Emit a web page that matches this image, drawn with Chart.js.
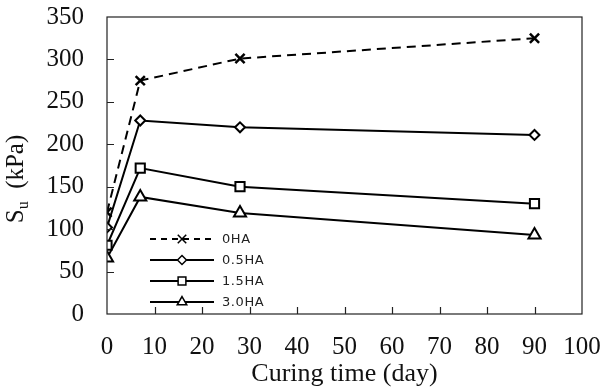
<!doctype html>
<html lang="en">
<head>
<meta charset="UTF-8">
<script src="https://cdn.jsdelivr.net/npm/chart.js@4.4.1/dist/chart.umd.min.js"></script>
<title>Su vs curing time</title>
<style>
  html, body { margin: 0; padding: 0; background: #fff; }
  .box { width: 604px; height: 390px; }
</style>
</head>
<body>
<div class="box"><canvas id="canvas"></canvas></div>
<script>
// data
const days = [0, 7, 28, 90];
const seriesNames = ['0HA', '0.5HA', '1.5HA', '3.0HA'];
const su0HA = [120, 275, 301, 325];
const su05HA = [102, 228, 220, 211];
const su15HA = [81, 172, 150, 130];
const su30HA = [66, 138, 119, 93];
const xTicks = [0, 10, 20, 30, 40, 50, 60, 70, 80, 90, 100];
const yTicks = [0, 50, 100, 150, 200, 250, 300, 350];

const serif = '"Liberation Serif", "Times New Roman", serif';

function pts(values) {
    return days.map((d, i) => ({ x: d, y: values[i] }));
}

const styles = [
    { style: 'crossRot', radius: 6.5, legendRadius: 6, dash: [9, 6], legendDash: [6, 5] },
    { style: 'rectRot', radius: 5, legendRadius: 4.5, dash: [], legendDash: [] },
    { style: 'rect', radius: 6.5, legendRadius: 5.5, dash: [], legendDash: [] },
    { style: 'triangle', radius: 7, legendRadius: 5.5, dash: [], legendDash: [] },
];
const allValues = [su0HA, su05HA, su15HA, su30HA];

const datasets = allValues.map((v, i) => ({
    label: seriesNames[i],
    data: pts(v),
    borderColor: '#000',
    backgroundColor: '#fff',
    borderWidth: 2,
    borderDash: styles[i].dash,
    pointStyle: styles[i].style,
    pointRadius: styles[i].radius,
    pointBorderWidth: i === 0 ? 2.5 : 2,
    pointBorderColor: '#000',
    pointBackgroundColor: '#fff',
    tension: 0,
}));

// box around the plot and inward tick marks
const framePlugin = {
    id: 'frame',
    afterDatasetsDraw(chart) {
        const { ctx, chartArea: a, scales } = chart;
        ctx.save();
        ctx.strokeStyle = '#222';
        ctx.lineWidth = 1.2;
        ctx.strokeRect(a.left, a.top, a.right - a.left, a.bottom - a.top);
        ctx.beginPath();
        xTicks.slice(1, -1).forEach(t => {
            const px = Math.round(scales.x.getPixelForValue(t)) + 0.5;
            ctx.moveTo(px, a.bottom);
            ctx.lineTo(px, a.bottom - 7);
        });
        yTicks.slice(1, -1).forEach(t => {
            const py = Math.round(scales.y.getPixelForValue(t)) + 0.5;
            ctx.moveTo(a.left, py);
            ctx.lineTo(a.left + 7, py);
        });
        ctx.stroke();
        ctx.restore();
    }
};

// legend inside the plot, lower left
const legendPlugin = {
    id: 'innerLegend',
    afterDraw(chart) {
        const { ctx } = chart;
        const x0 = 150, x1 = 214, rowY = [239, 260, 281, 302];
        ctx.save();
        chart.data.datasets.forEach((ds, i) => {
            const y = rowY[i];
            ctx.strokeStyle = '#000';
            ctx.lineWidth = 2;
            ctx.setLineDash(styles[i].legendDash);
            ctx.beginPath();
            ctx.moveTo(x0, y);
            ctx.lineTo(x1, y);
            ctx.stroke();
            ctx.setLineDash([]);
            ctx.fillStyle = '#fff';
            ctx.lineWidth = 1.5;
            Chart.helpers.drawPoint(ctx, { pointStyle: ds.pointStyle, radius: styles[i].legendRadius, borderWidth: 1.5 }, (x0 + x1) / 2, y);
            ctx.fillStyle = '#222';
            ctx.font = '13px "DejaVu Sans", sans-serif';
            ctx.letterSpacing = '0.6px';
            ctx.textBaseline = 'middle';
            ctx.fillText(ds.label, 222, y + 1);
        });
        ctx.restore();
    }
};

// y axis title with subscript
const yTitlePlugin = {
    id: 'yTitle',
    afterDraw(chart) {
        const { ctx } = chart;
        const big = '25px ' + serif, small = '16px ' + serif;
        ctx.save();
        ctx.translate(23, 179);
        ctx.rotate(-Math.PI / 2);
        ctx.fillStyle = '#111';
        ctx.textBaseline = 'alphabetic';
        ctx.font = big;
        const wS = ctx.measureText('S').width;
        const wRest = ctx.measureText('  (kPa)').width;
        ctx.font = small;
        const wU = ctx.measureText('u').width;
        let x = -(wS + wU + wRest) / 2;
        ctx.font = big;
        ctx.fillText('S', x, 0);
        x += wS;
        ctx.font = small;
        ctx.fillText('u', x, 5);
        x += wU;
        ctx.font = big;
        ctx.fillText('  (kPa)', x, 0);
        ctx.restore();
    }
};

Chart.defaults.font.family = serif;
Chart.defaults.color = '#111';

new Chart(document.getElementById('canvas'), {
    type: 'line',
    data: { datasets: datasets },
    plugins: [framePlugin, legendPlugin, yTitlePlugin],
    options: {
        responsive: true,
        maintainAspectRatio: false,
        animation: false,
        layout: { padding: { top: 17, right: 22, left: 0, bottom: 0 } },
        plugins: { legend: { display: false }, tooltip: { enabled: false } },
        scales: {
            x: {
                type: 'linear',
                min: 0, max: 100,
                afterFit(s) { s.height = 76; s.paddingLeft = 0; s.paddingRight = 0; },
                afterBuildTicks(s) { s.ticks = xTicks.map(v => ({ value: v })); },
                grid: { display: false, drawTicks: false },
                border: { display: false },
                ticks: { padding: 18, font: { size: 25 }, color: '#111', maxRotation: 0 },
                title: { display: true, text: 'Curing time (day)', font: { size: 26 }, padding: { top: 0, bottom: 0 }, color: '#111' }
            },
            y: {
                min: 0, max: 350,
                afterFit(s) { s.width = 107; s.paddingTop = 0; s.paddingBottom = 0; },
                afterBuildTicks(s) { s.ticks = yTicks.map(v => ({ value: v })); },
                grid: { display: false, drawTicks: false },
                border: { display: false },
                ticks: { padding: 23, font: { size: 25 }, color: '#111' }
            }
        }
    }
});
</script>
</body>
</html>
